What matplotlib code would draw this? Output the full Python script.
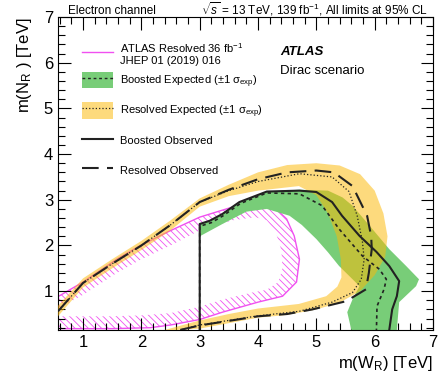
import matplotlib
matplotlib.use("Agg")
import matplotlib.pyplot as plt
from matplotlib.patches import Patch
from matplotlib.lines import Line2D
from matplotlib.ticker import MultipleLocator

plt.rcParams['font.family'] = ['Liberation Sans', 'DejaVu Sans']
plt.rcParams['mathtext.fontset'] = 'custom'
plt.rcParams['mathtext.rm'] = 'Liberation Sans'
plt.rcParams['mathtext.it'] = 'Liberation Sans:italic'
plt.rcParams['mathtext.bf'] = 'Liberation Sans:bold'
plt.rcParams['hatch.linewidth'] = 0.6

# ATLAS resolved 36 fb-1 contour (closed) and inner edge of its hatch
atlas36_x = [0.57, 1.0, 1.58, 1.97, 2.44, 3.0, 3.56, 4.0, 4.25, 4.49, 4.62, 4.71,
             4.66, 4.42, 4.0, 3.39, 3.0, 2.5, 2.15, 1.5, 0.57]
atlas36_y = [0.88, 1.2, 1.7, 1.99, 2.29, 2.62, 2.84, 2.91, 2.87, 2.58, 2.21, 1.7,
             1.2, 0.89, 0.76, 0.54, 0.38, 0.26, 0.2, 0.18, 0.18]
hatch_in_x = [0.57, 1.0, 1.58, 2.0, 2.5, 3.0, 3.56, 3.95, 4.15, 4.3, 4.4, 4.42,
              4.35, 4.15, 3.9, 3.4, 3.0, 2.5, 2.0, 1.5, 0.57]
hatch_in_y = [0.62, 0.92, 1.4, 1.7, 2.0, 2.33, 2.55, 2.62, 2.55, 2.3, 1.9, 1.5,
              1.2, 1.03, 0.97, 0.82, 0.66, 0.52, 0.47, 0.45, 0.45]

# boosted expected +-1 sigma band (closed polygon)
boost_band_x = [3.0, 3.0, 3.17, 3.39, 3.68, 4.15, 4.71, 5.2, 5.45, 5.62, 5.96, 6.25,
                6.54, 6.76, 6.71, 6.42, 6.38, 5.6, 5.53, 5.62, 5.74, 5.55, 5.39,
                5.2, 5.0, 4.75, 4.54, 4.15, 3.8, 3.39, 3.0]
boost_band_y = [2.2, 2.47, 2.54, 2.69, 2.95, 3.18, 3.22, 3.2, 3.05, 2.87, 2.36, 1.92,
                1.55, 1.26, 1.11, 0.76, 0.15, 0.15, 0.54, 0.82, 1.11, 1.35, 1.55,
                1.85, 2.14, 2.45, 2.65, 2.8, 2.74, 2.47, 2.2]

# resolved expected +-1 sigma band: outer edge then inner edge
res_out_x = [0.57, 1.0, 1.5, 2.0, 2.5, 3.0, 3.5, 4.0, 4.5, 5.0, 5.4, 5.75, 6.0,
             6.15, 6.22, 6.18, 6.0, 5.75, 5.4, 5.0, 4.5, 4.0, 3.5, 3.0, 2.6]
res_out_y = [0.68, 1.28, 1.7, 2.1, 2.55, 3.03, 3.33, 3.6, 3.76, 3.8, 3.75, 3.56, 3.2,
             2.7, 2.2, 1.75, 1.35, 1.0, 0.75, 0.6, 0.48, 0.42, 0.3, 0.18, 0.15]
res_in_x = [0.57, 1.0, 1.5, 2.0, 2.5, 3.0, 3.5, 4.0, 4.7, 5.0, 5.2, 5.35, 5.42,
            5.43, 5.36, 5.17, 4.7, 4.0, 3.5, 3.0, 2.6, 2.4]
res_in_y = [0.45, 1.08, 1.5, 1.9, 2.33, 2.85, 3.08, 3.2, 3.3, 3.1, 2.7, 2.2, 1.7,
            1.3, 1.1, 0.89, 0.72, 0.62, 0.5, 0.36, 0.22, 0.15]

# boosted lines
boost_exp_x = [3.0, 3.0, 3.2, 3.4, 3.7, 4.15, 4.71, 5.1, 5.39, 5.79, 6.08, 6.2,
               6.16, 6.04, 6.03]
boost_exp_y = [0.15, 2.42, 2.5, 2.65, 2.92, 3.15, 3.13, 2.87, 2.36, 1.77, 1.48, 1.26,
               1.04, 0.67, 0.15]
boost_obs_x = [3.0, 3.0, 3.17, 3.39, 3.68, 4.15, 4.71, 5.0, 5.27, 5.44, 5.74, 6.03,
               6.25, 6.42, 6.38, 6.3, 6.25]
boost_obs_y = [0.15, 2.47, 2.54, 2.69, 2.95, 3.18, 3.2, 3.17, 2.95, 2.65, 2.21, 1.86,
               1.55, 1.22, 0.89, 0.6, 0.15]

# resolved lines
res_exp_x = [0.57, 1.0, 1.5, 2.0, 2.5, 3.0, 3.5, 4.0, 4.71, 5.27, 5.56, 5.7, 5.79,
             5.82, 5.77, 5.62, 5.27, 4.71, 4.0, 3.5, 3.0, 2.66]
res_exp_y = [0.56, 1.18, 1.6, 2.0, 2.45, 2.95, 3.2, 3.4, 3.57, 3.5, 3.18, 2.65, 2.08,
             1.7, 1.26, 0.97, 0.76, 0.56, 0.46, 0.36, 0.26, 0.15]
res_obs_x = [0.57, 1.0, 1.5, 2.0, 2.5, 3.0, 3.5, 4.0, 4.5, 5.0, 5.3, 5.62, 5.87,
             5.94, 5.95, 5.9, 5.85, 5.51, 4.93, 4.5, 4.0, 3.5, 3.0, 2.66]
res_obs_y = [0.56, 1.18, 1.6, 2.0, 2.45, 2.95, 3.22, 3.45, 3.6, 3.64, 3.6, 3.3, 2.65,
             2.2, 1.92, 1.4, 1.04, 0.78, 0.6, 0.5, 0.45, 0.35, 0.25, 0.15]

green = '#78cd78'
yellow = '#fdb909'
magenta = '#f050f0'
dark = '#222222'

fig = plt.figure(figsize=(4.38, 3.77), dpi=100)
ax = fig.add_axes([58 / 438, 47 / 377, 375 / 438, 313 / 377])

ax.fill(atlas36_x + hatch_in_x[::-1], atlas36_y + hatch_in_y[::-1],
        facecolor='none', edgecolor=magenta, linewidth=0, hatch='\\\\\\\\\\', zorder=1)
ax.plot(atlas36_x, atlas36_y, color=magenta, lw=1.0, zorder=1.5)

ax.fill(boost_band_x, boost_band_y, color=green, lw=0, zorder=2)
ax.fill(res_out_x + res_in_x[::-1], res_out_y + res_in_y[::-1],
        color=yellow, alpha=0.53, lw=0, zorder=3)

ax.plot(res_exp_x, res_exp_y, color=dark, lw=0.9, ls=':', zorder=4)
ax.plot(res_obs_x, res_obs_y, color=dark, lw=1.5, dashes=(8, 4), zorder=4)
ax.plot(boost_exp_x, boost_exp_y, color=dark, lw=1.2, dashes=(2, 2), zorder=5)
ax.plot(boost_obs_x, boost_obs_y, color=dark, lw=1.5, zorder=5)

ax.set_xlim(0.57, 7)
ax.set_ylim(0.15, 7)
ax.xaxis.set_major_locator(MultipleLocator(1))
ax.xaxis.set_minor_locator(MultipleLocator(0.2))
ax.yaxis.set_major_locator(MultipleLocator(1))
ax.yaxis.set_minor_locator(MultipleLocator(0.2))
ax.tick_params(which='both', direction='in', top=True, right=True, labelsize=12)
ax.tick_params(which='major', length=9, width=0.8)
ax.tick_params(which='minor', length=5, width=0.8)
for s in ax.spines.values():
    s.set_linewidth(0.8)

ax.set_xlabel('m(W$_\\mathregular{R}$) [TeV]', fontsize=12, loc='right', labelpad=3)
ax.set_ylabel('m(N$_\\mathregular{R}$ ) [TeV]', fontsize=12, loc='top', labelpad=7)

fig.text(68 / 438, 1 - 14 / 377, 'Electron channel', fontsize=8.5, va='baseline')
fig.text(428 / 438, 1 - 14 / 377, '$\\sqrt{s}$ = 13 TeV, 139 fb$^{-1}$, All limits at 95% CL',
         fontsize=8.5, ha='right', va='baseline')
ax.text(222 / 375, 1 - (55 - 17) / 313, 'ATLAS', transform=ax.transAxes,
        fontsize=9.5, fontweight='bold', fontstyle='italic', va='baseline')
ax.text(222 / 375, 1 - (74 - 17) / 313, 'Dirac scenario',
        transform=ax.transAxes, fontsize=9.5, va='baseline')

# first legend: previous ATLAS result
leg1 = ax.legend([Line2D([], [], color=magenta, lw=1.0)],
                 ['ATLAS Resolved 36 fb$^{-1}$\nJHEP 01 (2019) 016'],
                 loc='upper left', bbox_to_anchor=(24 / 375, 1 - 24 / 313),
                 frameon=False, fontsize=8, handlelength=2.8, handleheight=1.9,
                 handletextpad=0.6, borderpad=0, borderaxespad=0)
ax.add_artist(leg1)

handles = [
    (Patch(facecolor=green, lw=0), Line2D([], [], color=dark, lw=1.0, dashes=(2, 2))),
    (Patch(facecolor=yellow, alpha=0.53, lw=0), Line2D([], [], color=dark, lw=0.9, ls=':')),
    Line2D([], [], color=dark, lw=1.5),
    Line2D([], [], color=dark, lw=1.5, dashes=(8, 4)),
]
labels = [
    'Boosted Expected (±1 σ$_{\\mathrm{exp}}$)',
    'Resolved Expected (±1 σ$_{\\mathrm{exp}}$)',
    'Boosted Observed',
    'Resolved Observed',
]
ax.legend(handles, labels, loc='upper left', bbox_to_anchor=(24 / 375, 1 - 55 / 313),
          frameon=False, fontsize=8, handlelength=2.8, handleheight=1.9,
          labelspacing=1.15, handletextpad=0.6, borderpad=0, borderaxespad=0)

fig.savefig('out.png', dpi=100)
